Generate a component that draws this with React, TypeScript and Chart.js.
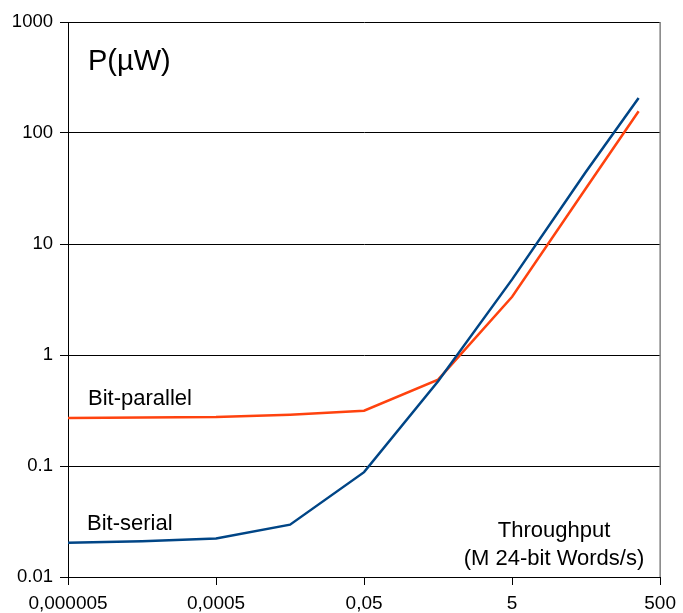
import React, { useEffect, useRef } from "react";
import { Chart, registerables } from "chart.js";

Chart.register(...registerables);

const throughput = [0.000005, 0.00005, 0.0005, 0.005, 0.05, 0.5, 5, 50, 256];
const bitSerial = [0.0204, 0.021, 0.0222, 0.0296, 0.088, 0.58, 4.8, 45, 207];
const bitParallel = [0.27, 0.273, 0.276, 0.29, 0.315, 0.6, 3.35, 32, 157];

const xTickValues = [0.000005, 0.0005, 0.05, 5, 500];
const xTickLabels = ["0,000005", "0,0005", "0,05", "5", "500"];
const yTickValues = [0.01, 0.1, 1, 10, 100, 1000];
const yTickLabels = ["0.01", "0.1", "1", "10", "100", "1000"];

const FONT = "'Liberation Sans', Arial, sans-serif";

const annotations = {
  id: "annotations",
  afterDraw(chart: any) {
    const ctx = chart.ctx;
    const { chartArea } = chart;
    ctx.save();
    ctx.strokeStyle = "#808080";
    ctx.lineWidth = 1.5;
    ctx.beginPath();
    ctx.moveTo(chartArea.right, chartArea.top);
    ctx.lineTo(chartArea.right, chartArea.bottom);
    ctx.stroke();

    ctx.fillStyle = "#000";
    ctx.textBaseline = "alphabetic";
    ctx.textAlign = "left";
    ctx.font = `29px ${FONT}`;
    ctx.fillText("P(µW)", 88, 70);
    ctx.font = `22px ${FONT}`;
    ctx.fillText("Bit-parallel", 88, 405);
    ctx.fillText("Bit-serial", 87, 530);
    ctx.textAlign = "center";
    ctx.fillText("Throughput", 554, 537);
    ctx.fillText("(M 24-bit Words/s)", 554, 565);
    ctx.restore();
  },
};

export default function App() {
  const ref = useRef<HTMLCanvasElement>(null);
  useEffect(() => {
    if (!ref.current) return;
    const chart = new Chart(ref.current, {
      type: "scatter",
      data: {
        datasets: [
          {
            label: "Bit-serial",
            data: throughput.map((x, i) => ({ x, y: bitSerial[i] })),
            showLine: true,
            borderColor: "#004586",
            backgroundColor: "#004586",
            borderWidth: 2.5,
            pointRadius: 0,
          },
          {
            label: "Bit-parallel",
            data: throughput.map((x, i) => ({ x, y: bitParallel[i] })),
            showLine: true,
            borderColor: "#ff420e",
            backgroundColor: "#ff420e",
            borderWidth: 2.5,
            pointRadius: 0,
          },
        ],
      },
      options: {
        animation: false,
        responsive: false,
        maintainAspectRatio: false,
        layout: { padding: { left: 0, right: 20, top: 22, bottom: 0 } },
        plugins: {
          legend: { display: false },
          tooltip: { enabled: false },
        },
        scales: {
          x: {
            type: "logarithmic",
            min: 0.000005,
            max: 500,
            afterBuildTicks: (scale: any) => {
              scale.ticks = xTickValues.map((v) => ({ value: v }));
            },
            afterFit: (scale: any) => {
              scale.height = 36;
            },
            ticks: {
              autoSkip: false,
              maxRotation: 0,
              color: "#000",
              font: { family: FONT, size: 19 },
              padding: 7,
              callback: (_v: any, i: number) => xTickLabels[i],
            },
            grid: {
              display: true,
              drawOnChartArea: false,
              drawTicks: true,
              tickLength: 8,
              color: "#000",
            },
            border: { display: true, color: "#000", width: 1 },
          },
          y: {
            type: "logarithmic",
            min: 0.01,
            max: 1000,
            afterBuildTicks: (scale: any) => {
              scale.ticks = yTickValues.map((v) => ({ value: v }));
            },
            afterFit: (scale: any) => {
              scale.width = 68;
            },
            ticks: {
              autoSkip: false,
              color: "#000",
              font: { family: FONT, size: 18.5 },
              padding: 7,
              callback: (_v: any, i: number) => yTickLabels[i],
            },
            grid: {
              display: true,
              drawTicks: true,
              tickLength: 8,
              color: "#000",
              lineWidth: 1,
            },
            border: { display: true, color: "#000", width: 1 },
          },
        },
      },
      plugins: [annotations],
    });
    return () => chart.destroy();
  }, []);
  return (
    <div style={{ position: "fixed", left: 0, top: 0, width: 683, height: 613, background: "#fff" }}>
      <canvas ref={ref} width={683} height={613} style={{ width: 683, height: 613 }} />
    </div>
  );
}
